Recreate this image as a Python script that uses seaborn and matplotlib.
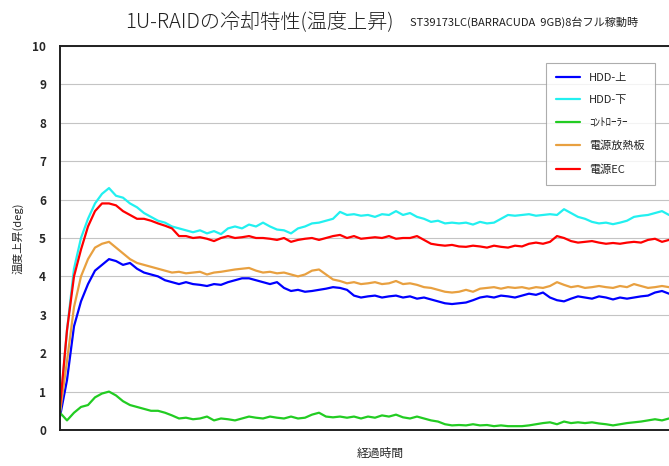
import numpy as np
import pandas as pd
import matplotlib
matplotlib.use('Agg')
import matplotlib.pyplot as plt
import seaborn as sns

series_names = ['HDD-上', 'HDD-下', 'ｺﾝﾄﾛｰﾗｰ', '電源放熱板', '電源EC']
series_colors = ['#0000ff', '#22f0f0', '#22cc22', '#e8a040', '#ff0000']

hdd_top = [0.35, 1.3, 2.7, 3.35, 3.8, 4.15, 4.3, 4.45, 4.4, 4.3, 4.35, 4.2, 4.1, 4.05, 4.0,
           3.9, 3.85, 3.8, 3.85, 3.8, 3.78, 3.75, 3.8, 3.78, 3.85, 3.9, 3.95, 3.95, 3.9, 3.85,
           3.8, 3.85, 3.7, 3.62, 3.65, 3.6, 3.62, 3.65, 3.68, 3.72, 3.7, 3.65, 3.5, 3.45, 3.48,
           3.5, 3.45, 3.48, 3.5, 3.45, 3.48, 3.42, 3.45, 3.4, 3.35, 3.3, 3.28, 3.3, 3.32, 3.38,
           3.45, 3.48, 3.45, 3.5, 3.48, 3.45, 3.5, 3.55, 3.52, 3.58, 3.45, 3.38, 3.35, 3.42, 3.48,
           3.45, 3.42, 3.48, 3.45, 3.4, 3.45, 3.42, 3.45, 3.48, 3.5, 3.58, 3.62, 3.55]
hdd_bottom = [0.5, 2.6, 4.2, 5.0, 5.5, 5.9, 6.15, 6.3, 6.1, 6.05, 5.9, 5.8, 5.65, 5.55, 5.45,
              5.4, 5.3, 5.25, 5.2, 5.15, 5.2, 5.12, 5.18, 5.1, 5.25, 5.3, 5.25, 5.35, 5.3, 5.4,
              5.3, 5.22, 5.2, 5.12, 5.25, 5.3, 5.38, 5.4, 5.45, 5.5, 5.68, 5.6, 5.62, 5.58, 5.6,
              5.55, 5.62, 5.6, 5.7, 5.6, 5.65, 5.55, 5.5, 5.42, 5.45, 5.38, 5.4, 5.38, 5.4, 5.35,
              5.42, 5.38, 5.4, 5.5, 5.6, 5.58, 5.6, 5.62, 5.58, 5.6, 5.62, 5.6, 5.75, 5.65, 5.55,
              5.5, 5.42, 5.38, 5.4, 5.36, 5.4, 5.45, 5.55, 5.58, 5.6, 5.65, 5.7, 5.6]
controller = [0.45, 0.25, 0.45, 0.6, 0.65, 0.85, 0.95, 1.0, 0.9, 0.75, 0.65, 0.6, 0.55, 0.5, 0.5,
              0.45, 0.38, 0.3, 0.32, 0.28, 0.3, 0.35, 0.25, 0.3, 0.28, 0.25, 0.3, 0.35, 0.32, 0.3,
              0.35, 0.32, 0.3, 0.35, 0.3, 0.32, 0.4, 0.45, 0.35, 0.33, 0.35, 0.32, 0.35, 0.3, 0.35,
              0.32, 0.38, 0.35, 0.4, 0.33, 0.3, 0.35, 0.3, 0.25, 0.22, 0.15, 0.12, 0.13, 0.12, 0.15,
              0.12, 0.13, 0.1, 0.12, 0.1, 0.1, 0.1, 0.12, 0.15, 0.18, 0.2, 0.15, 0.22, 0.18, 0.2,
              0.18, 0.2, 0.17, 0.15, 0.12, 0.15, 0.18, 0.2, 0.22, 0.25, 0.28, 0.25, 0.3]
psu_heatsink = [0.45, 1.8, 3.2, 4.0, 4.45, 4.75, 4.85, 4.9, 4.75, 4.6, 4.45, 4.35, 4.3, 4.25, 4.2,
                4.15, 4.1, 4.12, 4.08, 4.1, 4.12, 4.05, 4.1, 4.12, 4.15, 4.18, 4.2, 4.22, 4.15, 4.1,
                4.12, 4.08, 4.1, 4.05, 4.0, 4.05, 4.15, 4.18, 4.05, 3.92, 3.88, 3.82, 3.85, 3.8, 3.82,
                3.85, 3.8, 3.82, 3.88, 3.8, 3.82, 3.78, 3.72, 3.7, 3.65, 3.6, 3.58, 3.6, 3.65, 3.6,
                3.68, 3.7, 3.72, 3.68, 3.72, 3.7, 3.72, 3.68, 3.72, 3.7, 3.75, 3.85, 3.78, 3.72, 3.75,
                3.7, 3.72, 3.75, 3.72, 3.7, 3.75, 3.72, 3.8, 3.75, 3.7, 3.72, 3.75, 3.72]
psu_ec = [0.6, 2.6, 4.0, 4.7, 5.3, 5.7, 5.9, 5.9, 5.85, 5.7, 5.6, 5.5, 5.5, 5.45, 5.38,
          5.32, 5.25, 5.05, 5.05, 5.0, 5.02, 4.98, 4.92, 5.0, 5.05, 5.0, 5.02, 5.05, 5.0, 5.0,
          4.98, 4.95, 5.0, 4.9, 4.95, 4.98, 5.0, 4.95, 5.0, 5.05, 5.08, 5.0, 5.05, 4.98, 5.0,
          5.02, 5.0, 5.05, 4.98, 5.0, 5.0, 5.05, 4.95, 4.85, 4.82, 4.8, 4.82, 4.78, 4.77, 4.8,
          4.78, 4.75, 4.8, 4.77, 4.75, 4.8, 4.78, 4.85, 4.88, 4.85, 4.9, 5.05, 5.0, 4.92, 4.88,
          4.9, 4.92, 4.88, 4.85, 4.87, 4.85, 4.88, 4.9, 4.88, 4.95, 4.98, 4.9, 4.95]

values = [hdd_top, hdd_bottom, controller, psu_heatsink, psu_ec]
frames = []
for name, vals in zip(series_names, values):
    frames.append(pd.DataFrame({'t': np.arange(len(vals)), 'temp': vals, 'series': name}))
data = pd.concat(frames, ignore_index=True)

sns.set_style('white')
plt.rcParams['font.family'] = ['Noto Sans CJK JP', 'DejaVu Sans']

fig = plt.figure(figsize=(6.69, 4.66), dpi=100)
# plot area starts at x=60px and runs past the right edge of the picture
ax = fig.add_axes([60 / 669, 36 / 466, 640 / 669, 384 / 466])

sns.lineplot(data=data, x='t', y='temp', hue='series', hue_order=series_names,
             palette=series_colors, linewidth=1.6, ax=ax)

n = len(hdd_top) - 1
ax.set_xlim(0, n * 640 / 609)
ax.set_ylim(0, 10)
ax.set_yticks(range(0, 11))
ax.set_yticklabels([str(i) for i in range(0, 11)], fontsize=8.5, fontweight='bold')
ax.set_xticks([])
ax.yaxis.grid(True, color='#c4c4c4', linewidth=0.8)
ax.tick_params(axis='y', length=0, pad=10)
for side in ['left', 'bottom', 'top']:
    ax.spines[side].set_color('#202020')
    ax.spines[side].set_linewidth(1.4)
ax.spines['right'].set_visible(False)

ax.set_xlabel('経過時間', fontsize=8.5, labelpad=12)
ax.set_ylabel('温度上昇(deg)', fontsize=8, labelpad=6)

leg = ax.legend(loc='upper left', bbox_to_anchor=(540 / 669, 1 - 57 / 466),
                bbox_transform=fig.transFigure, fontsize=8, frameon=True, fancybox=False,
                edgecolor='#999999', labelspacing=1.15, handlelength=2.2,
                borderpad=0.9, title=None)
leg.get_frame().set_linewidth(0.8)

fig.text(125 / 669, 1 - 22 / 466, '1U-RAIDの冷却特性(温度上昇)', fontsize=14.5,
         fontweight='light', va='center', ha='left', color='#202020')
fig.text(410 / 669, 1 - 22 / 466, 'ST39173LC(BARRACUDA  9GB)8台フル稼動時', fontsize=8,
         va='center', ha='left', color='#202020')

fig.savefig('out.png', dpi=100)
